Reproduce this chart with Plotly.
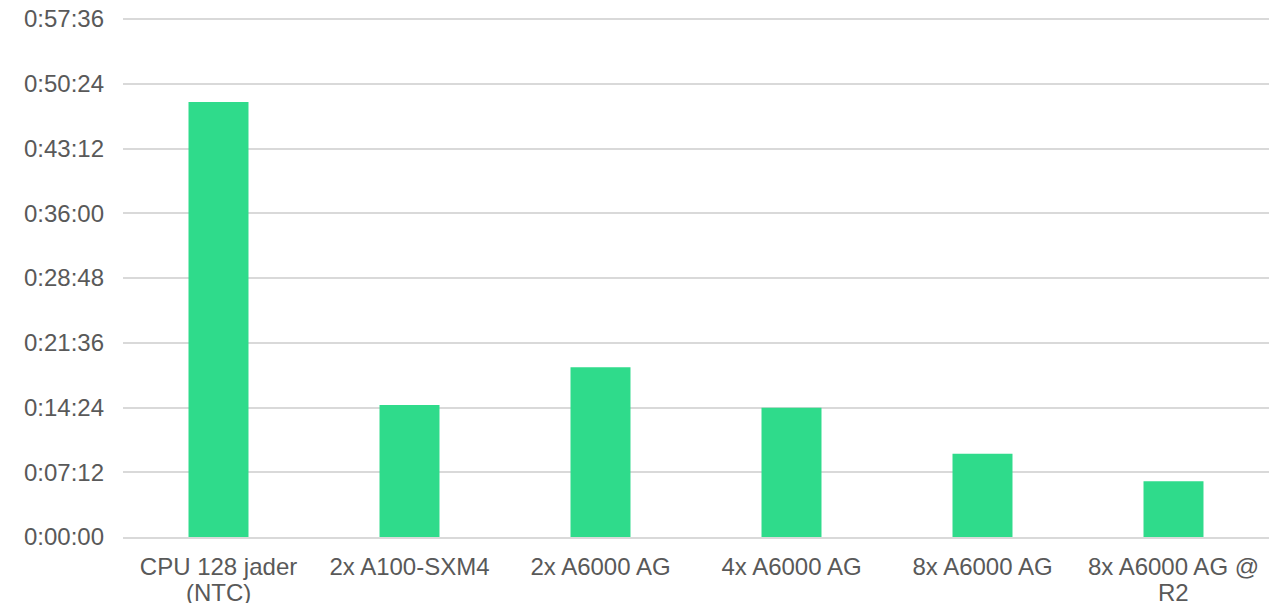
import plotly.graph_objects as go

categories = ["CPU 128 jader", "2x A100-SXM4", "2x A6000 AG", "4x A6000 AG", "8x A6000 AG", "8x A6000 AG @"]
category_second_lines = ["(NTC)", "", "", "", "", "R2"]
durations = ["0:48:22", "0:14:41", "0:18:52", "0:14:22", "0:09:16", "0:06:12"]
tick_seconds = [0, 432, 864, 1296, 1728, 2160, 2592, 3024, 3456]


def to_seconds(s):
    h, m, sec = (int(p) for p in s.split(":"))
    return h * 3600 + m * 60 + sec


def to_hms(v):
    v = int(v)
    return f"{v // 3600}:{(v % 3600) // 60:02d}:{v % 60:02d}"


values = [to_seconds(d) for d in durations]
FONT = "Arial, Liberation Sans, sans-serif"
TXT = "#595959"

fig = go.Figure(
    go.Bar(
        x=categories,
        y=values,
        marker=dict(color="#2FDB8B", line=dict(width=0)),
        width=0.314,
        hovertext=durations,
        hoverinfo="text",
    )
)

annotations = []
for cat, second in zip(categories, category_second_lines):
    if second:
        annotations.append(
            dict(
                x=cat, xref="x", y=0, yref="paper", yshift=-55,
                text=second, showarrow=False, yanchor="middle",
                font=dict(family=FONT, size=24, color=TXT),
            )
        )

fig.update_layout(
    width=1279,
    height=603,
    margin=dict(l=123, r=10, t=18, b=66, autoexpand=False),
    plot_bgcolor="white",
    paper_bgcolor="white",
    showlegend=False,
    font=dict(family=FONT, size=24, color=TXT),
    annotations=annotations,
    xaxis=dict(
        type="category",
        automargin=False,
        showgrid=False,
        showline=True,
        linecolor="#D9D9D9",
        linewidth=1.5,
        ticks="",
        ticklabelstandoff=7,
        tickfont=dict(family=FONT, size=24, color=TXT),
    ),
    yaxis=dict(
        range=[0, 3463],
        automargin=False,
        tickvals=tick_seconds,
        ticktext=[to_hms(t) for t in tick_seconds],
        showgrid=True,
        gridcolor="#D9D9D9",
        gridwidth=1.5,
        zeroline=False,
        showline=False,
        ticks="",
        ticklabelstandoff=18,
        tickfont=dict(family=FONT, size=24, color=TXT),
    ),
)

fig.write_html("out.html")
